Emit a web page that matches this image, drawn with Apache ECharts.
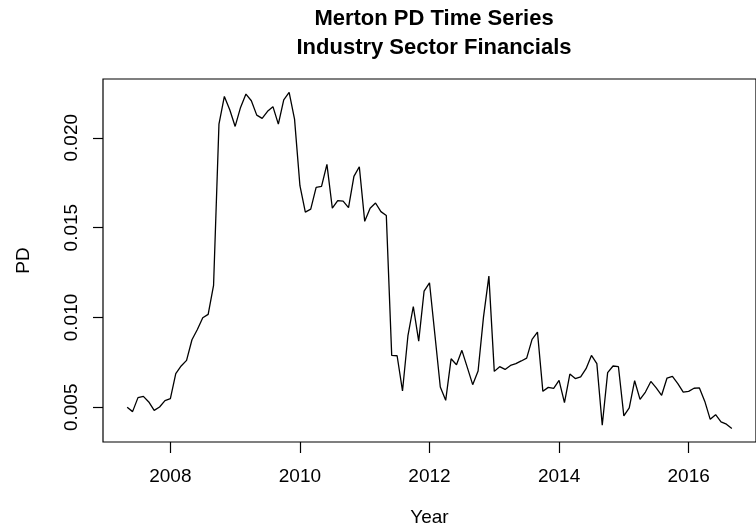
<!DOCTYPE html>
<html>
<head>
<meta charset="utf-8">
<script src="https://cdn.jsdelivr.net/npm/echarts@6/dist/echarts.min.js"></script>
<style>
html,body{margin:0;padding:0;background:#fff;}
#chart{width:756px;height:532px;}
</style>
</head>
<body>
<div id="chart"></div>
<script>
// Monthly series starts May 2007 (R ts, frequency 12)
const startYear = 2007;
const startMonth = 5;
const pdValues = [
  0.00500, 0.00476, 0.00554, 0.00561, 0.00530, 0.00483, 0.00502, 0.00537, 0.00548, 0.00687,
  0.00730, 0.00761, 0.00876, 0.00933, 0.00998, 0.01017, 0.01178, 0.02076, 0.02230, 0.02156,
  0.02063, 0.02169, 0.02243, 0.02206, 0.02126, 0.02108, 0.02147, 0.02173, 0.02076, 0.02211,
  0.02252, 0.02104, 0.01733, 0.01586, 0.01603, 0.01724, 0.01730, 0.01852, 0.01608, 0.01650,
  0.01647, 0.01611, 0.01785, 0.01839, 0.01535, 0.01608, 0.01637, 0.01589, 0.01567, 0.00789,
  0.00787, 0.00591, 0.00897, 0.01061, 0.00868, 0.01147, 0.01193, 0.00904, 0.00613, 0.00539,
  0.00770, 0.00737, 0.00817, 0.00722, 0.00626, 0.00702, 0.01002, 0.01230, 0.00700, 0.00726,
  0.00711, 0.00733, 0.00743, 0.00758, 0.00774, 0.00878, 0.00919, 0.00589, 0.00611, 0.00606,
  0.00650, 0.00526, 0.00685, 0.00660, 0.00669, 0.00715, 0.00789, 0.00743, 0.00400, 0.00693,
  0.00730, 0.00726, 0.00452, 0.00497, 0.00648, 0.00544, 0.00585, 0.00644, 0.00608, 0.00567,
  0.00663, 0.00672, 0.00632, 0.00585, 0.00589, 0.00606, 0.00608, 0.00533, 0.00433, 0.00459,
  0.00419, 0.00406, 0.00382
];
const xTicks = [2008, 2010, 2012, 2014, 2016];
const yTicks = [0.005, 0.010, 0.015, 0.020];
const titleLines = ["Merton PD Time Series", "Industry Sector Financials"];
const xLabel = "Year";
const yLabel = "PD";

const seriesData = pdValues.map((v, i) => [startYear + (startMonth - 1 + i) / 12, v]);

const FONT = "Liberation Sans, Arial, Helvetica, sans-serif";
const chart = echarts.init(document.getElementById('chart'), null, {renderer: 'canvas'});
chart.setOption({
  animation: false,
  backgroundColor: '#ffffff',
  graphic: [
    {type: 'text', x: 434, y: 4, style: {text: titleLines.join('\n'), textAlign: 'center', fill: '#000', font: 'bold 22px ' + FONT, lineHeight: 29}}
  ],
  grid: {left: 103, top: 79, width: 665, height: 364, show: true, borderColor: '#000', borderWidth: 1.2, backgroundColor: 'transparent'},
  xAxis: {
    type: 'value', min: 2006.96, max: 2017.04,
    name: xLabel, nameLocation: 'middle', nameGap: 66,
    nameTextStyle: {color: '#000', fontSize: 19, fontFamily: FONT},
    axisLine: {show: false},
    splitLine: {show: false},
    axisTick: {show: true, customValues: xTicks, length: 11, lineStyle: {color: '#000', width: 1.2}},
    axisLabel: {customValues: xTicks, color: '#000', fontSize: 19, fontFamily: FONT, margin: 25, formatter: v => String(Math.round(v))}
  },
  yAxis: {
    type: 'value', min: 0.00307, max: 0.02327,
    name: yLabel, nameLocation: 'middle', nameGap: 70,
    nameTextStyle: {color: '#000', fontSize: 19, fontFamily: FONT},
    axisLine: {show: false},
    splitLine: {show: false},
    axisTick: {show: true, customValues: yTicks, length: 10, lineStyle: {color: '#000', width: 1.2}},
    axisLabel: {customValues: yTicks, rotate: 90, color: '#000', fontSize: 19, fontFamily: FONT, margin: 22, formatter: v => v.toFixed(3)}
  },
  series: [{
    type: 'line', data: seriesData, showSymbol: false, symbol: 'none',
    lineStyle: {color: '#000', width: 1.3}, clip: false
  }]
});
</script>
</body>
</html>
